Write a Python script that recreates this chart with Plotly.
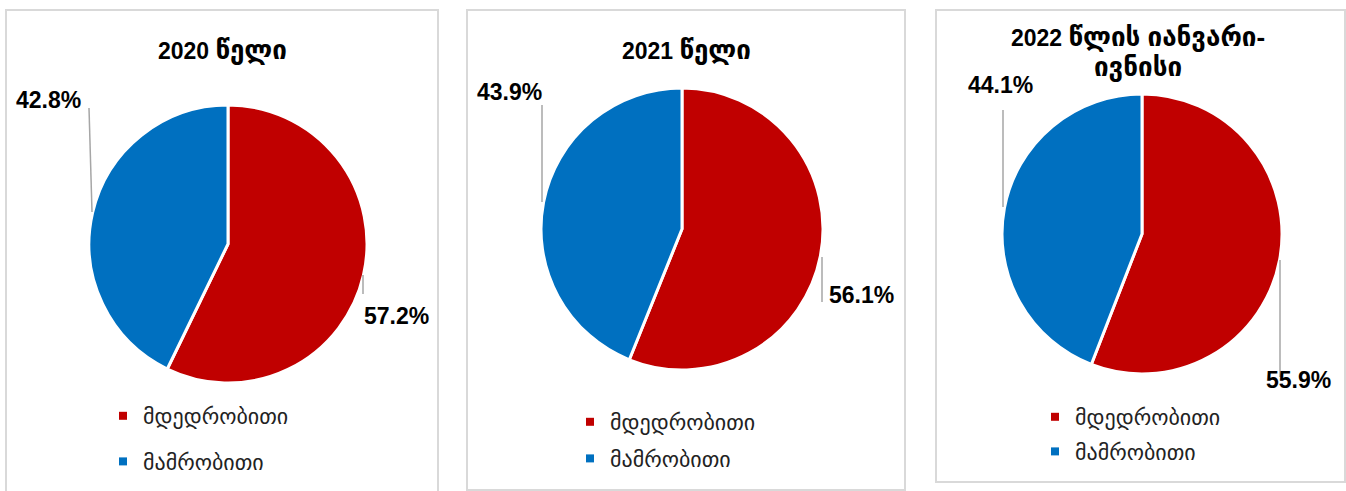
import plotly.graph_objects as go

W, H = 1346, 491

# Data
categories = ["მდედრობითი", "მამრობითი"]
colors = ["#c00000", "#0070c0"]
years = ["2020", "2021", "2022"]
periods = ["წელი", "წელი", "წლის იანვარი-<br>ივნისი"]
female_share = [57.2, 56.1, 55.9]
male_share = [42.8, 43.9, 44.1]


def px(x):
    return x / W


def py(y):
    return 1 - y / H


# Panel layout in pixels
panels = [
    dict(box=(6, 10, 438, 500), pie=(228, 244, 139), title=(222, 50),
         lab_f=(396, 316), lead_f=((363, 275), (363, 294)),
         lab_m=(48, 100), lead_m=((89, 108), (92, 212)),
         legend=(103, 395)),
    dict(box=(467, 10, 905, 490), pie=(682, 229, 141), title=(686, 50),
         lab_f=(862, 295), lead_f=((822, 257), (822, 302)),
         lab_m=(509, 92), lead_m=((542, 105), (542, 202)),
         legend=(570, 401)),
    dict(box=(936, 10, 1345, 482), pie=(1142, 234, 140), title=(1138, 52),
         lab_f=(1298, 380), lead_f=((1280, 260), (1280, 377)),
         lab_m=(1000, 85), lead_m=((1003, 110), (1003, 207)),
         legend=(1035, 396)),
]
legend_gaps = [14, 5, 3]

fig = go.Figure()
shapes = []
annotations = []
legend_names = ["legend", "legend2", "legend3"]

for i, p in enumerate(panels):
    cx, cy, r = p["pie"]
    values = [female_share[i], male_share[i]]
    fig.add_trace(go.Pie(
        labels=categories,
        values=values,
        sort=False,
        direction="clockwise",
        rotation=0,
        marker=dict(colors=colors, line=dict(color="white", width=3)),
        textinfo="none",
        hoverinfo="label+percent",
        showlegend=False,
        domain=dict(x=[px(cx - r), px(cx + r)], y=[py(cy + r), py(cy - r)]),
    ))

    # legend entries (one group per category so items are spaced apart)
    for j, cat in enumerate(categories):
        fig.add_trace(go.Scatter(
            x=[None], y=[None], mode="markers",
            marker=dict(symbol="square", size=8, color=colors[j]),
            name=cat, legend=legend_names[i], legendgroup=f"g{i}{j}",
            showlegend=True, hoverinfo="skip",
        ))

    # panel border
    x0, y0, x1, y1 = p["box"]
    shapes.append(dict(type="rect", xref="paper", yref="paper",
                       x0=px(x0), x1=px(x1), y0=py(y1), y1=py(y0),
                       line=dict(color="#d9d9d9", width=2)))

    # title: year in Arial-like digits, Georgian words slightly larger
    tx, ty = p["title"]
    title_text = (f"<b>{years[i]} <span style='font-size:26px'>{periods[i]}</span></b>")
    annotations.append(dict(text=title_text, x=px(tx), y=py(ty),
                            xref="paper", yref="paper", showarrow=False,
                            xanchor="center", yanchor="middle",
                            font=dict(family="Liberation Sans, Arial, DejaVu Sans",
                                      size=23, color="black")))

    # value labels with leader lines
    for val, lab, lead in ((values[0], p["lab_f"], p["lead_f"]),
                           (values[1], p["lab_m"], p["lead_m"])):
        annotations.append(dict(text=f"<b>{val:.1f}%</b>", x=px(lab[0]), y=py(lab[1]),
                                xref="paper", yref="paper", showarrow=False,
                                xanchor="center", yanchor="middle",
                                font=dict(family="Liberation Sans, Arial", size=23,
                                          color="black")))
        (lx0, ly0), (lx1, ly1) = lead
        shapes.append(dict(type="line", xref="paper", yref="paper",
                           x0=px(lx0), y0=py(ly0), x1=px(lx1), y1=py(ly1),
                           line=dict(color="#a6a6a6", width=1.5)))

layout_legends = {}
for i, p in enumerate(panels):
    lx, ly = p["legend"]
    layout_legends[legend_names[i]] = dict(
        x=px(lx), y=py(ly), xanchor="left", yanchor="top", orientation="v",
        bgcolor="rgba(0,0,0,0)", tracegroupgap=legend_gaps[i],
        font=dict(family="DejaVu Sans, Noto Sans", size=22, color="#222222"),
    )

fig.update_layout(
    width=W, height=H,
    margin=dict(l=0, r=0, t=0, b=0),
    paper_bgcolor="white",
    plot_bgcolor="white",
    xaxis=dict(visible=False),
    yaxis=dict(visible=False),
    shapes=shapes,
    annotations=annotations,
    **layout_legends,
)

fig.write_html("out.html")
